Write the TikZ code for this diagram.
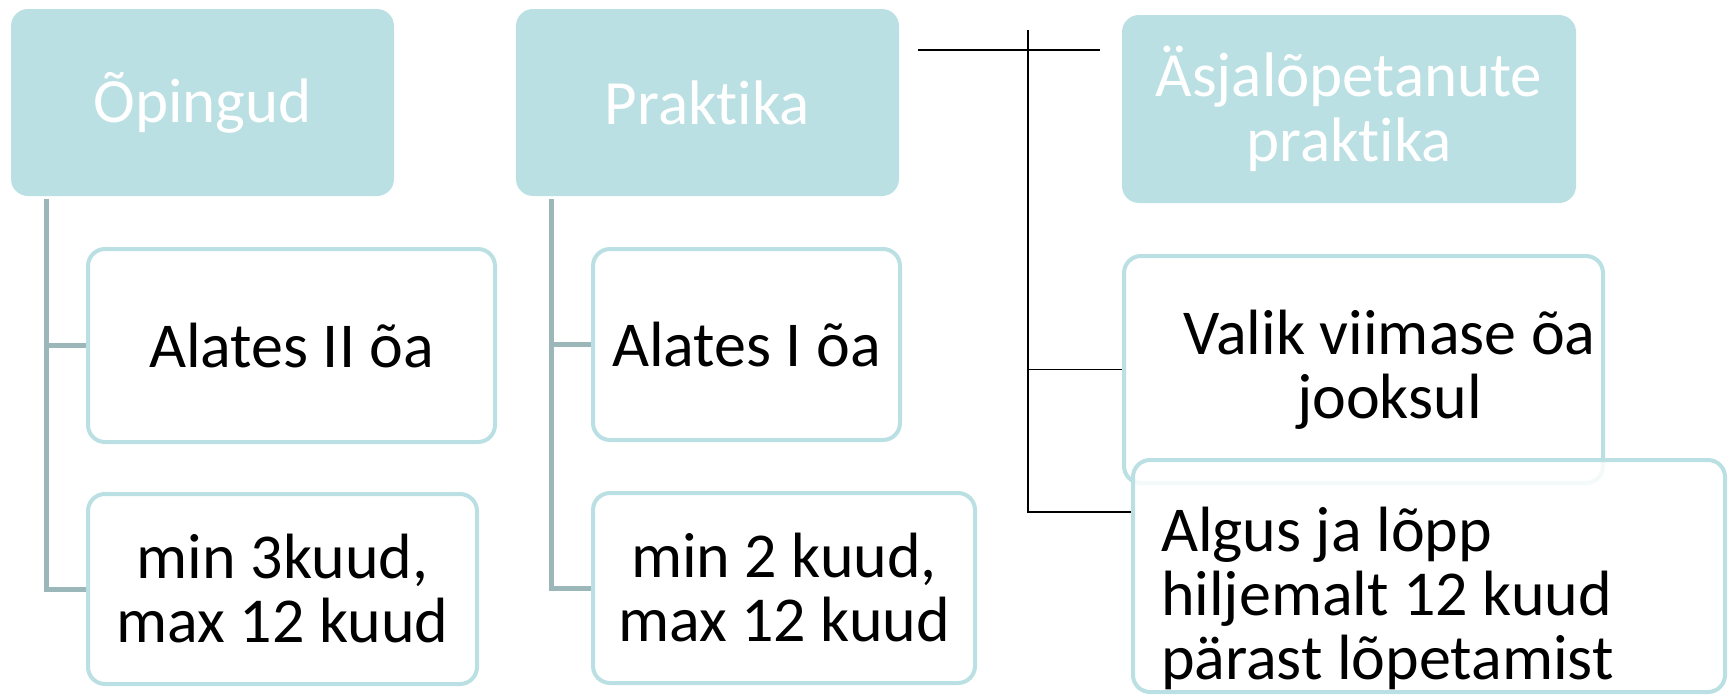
\documentclass[tikz,border=0pt]{standalone}
\usepackage{fontspec}
\setmainfont{Carlito}[RawFeature={-liga;-clig;-calt;-dlig}]
\usepackage{tikz, xcolor}
\definecolor{boxteal}{RGB}{187,224,227}
\definecolor{treegray}{RGB}{155,183,186}

\begin{document}
\begin{tikzpicture}[x=1pt, y=-1pt,
    head/.style={fill=boxteal, rounded corners=17pt, text=white, align=center, inner sep=0pt, font=\fontsize{63pt}{65pt}\selectfont},
    item/.style={draw=boxteal, line width=4pt, fill=white, rounded corners=17pt, align=center, inner sep=0pt, font=\fontsize{64pt}{64pt}\selectfont},
    tree/.style={draw=treegray, line width=5pt},
    thin/.style={draw=black, line width=1.6pt}]
    \useasboundingbox (0,0) rectangle (1730,696);
    \node (opingud) [head, minimum width=383, minimum height=187] at (202.5,102.5) {Õpingud};
    \node (praktika) [head, minimum width=383, minimum height=187] at (707.5,102.5) {Praktika};
    \node (asja) [head, minimum width=454, minimum height=188] at (1349,109) {Äsjalõpetanute\\praktika};
    \node (alates2) [item, minimum width=407, minimum height=193] at (291.5,345.5) {Alates II õa};
    \node (min3) [item, minimum width=389, minimum height=190] at (282.5,589) {min 3kuud,\\max 12 kuud};
    \node (alates1) [item, minimum width=307, minimum height=191] at (746.5,344.5) {Alates I õa};
    \node (min2) [item, minimum width=382, minimum height=190] at (784,588) {min 2 kuud,\\max 12 kuud};
    \node (valik) [item, minimum width=479, minimum height=227] at (1363.5,369.5) {\hspace*{52pt}Valik viimase õa\\\hspace*{52pt}jooksul};
    \node (algus) [item, fill opacity=0.85, text opacity=1, align=flush left, text width=536pt, inner xsep=28pt, text height=90pt, minimum height=232] at (1429,576) {Algus ja lõpp\\hiljemalt 12 kuud\\pärast lõpetamist};
    % gray tree lines
    \draw [tree] ([xshift=36pt, yshift=-3pt]opingud.south west) |- (alates2.west);
    \draw [tree] ([xshift=36pt, yshift=-3pt]opingud.south west) |- (min3.west);
    \draw [tree] ([xshift=36pt, yshift=-3pt]praktika.south west) |- (alates1.west);
    \draw [tree] ([xshift=36pt, yshift=-3pt]praktika.south west) |- (min2.west);
    % black lines
    \coordinate (stubl) at (918,50);
    \coordinate (stubr) at (1100,50);
    \coordinate (spine) at (1028,30);
    \draw [thin] (stubl) -- (stubr);
    \draw [thin] (spine) |- (valik.west);
    \draw [thin] (spine) |- ([yshift=-54pt]algus.north west);
\end{tikzpicture}
\end{document}
